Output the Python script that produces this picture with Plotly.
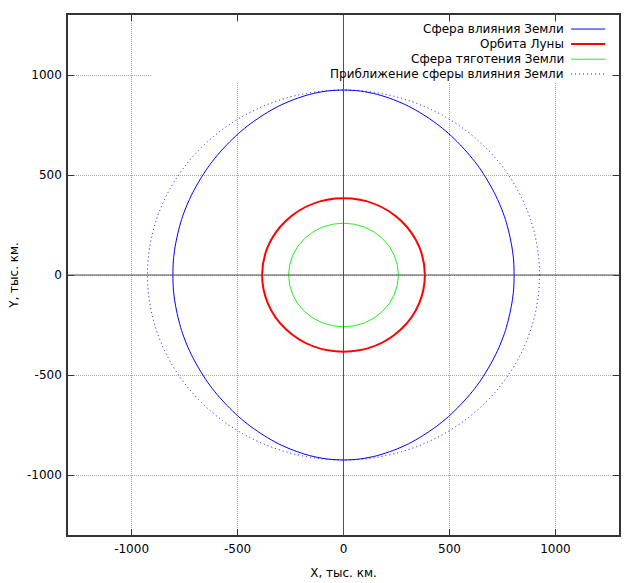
import numpy as np
import plotly.graph_objects as go

# --- data ---
# sphere of influence boundary, first quadrant (angle deg -> radius, thousand km)
soi_angles_deg = [0, 5, 10, 15, 20, 25, 30, 35, 40, 45,
                  50, 55, 60, 65, 70, 75, 80, 85, 90]
soi_radius = [805, 806, 807, 809, 813, 817, 822, 828, 836, 844,
              853, 864, 875, 886, 898, 908, 917, 923, 925]
moon_orbit_radius = 384
gravity_sphere_radius = 259
soi_approx_radius = 925

series_names = ["Сфера влияния Земли", "Орбита Луны",
                "Сфера тяготения Земли", "Приближение сферы влияния Земли"]
tick_values = [-1000, -500, 0, 500, 1000]
tick_labels = ["-1000", "-500", "0", "500", "1000"]
axis_range = [-1300, 1300]

FONT = "DejaVu Sans"
# full closed curve using the symmetry of the boundary
a = np.array(soi_angles_deg, dtype=float)
rr = np.array(soi_radius, dtype=float)
ang = np.concatenate([a, 180 - a[::-1][1:], 180 + a[1:], 360 - a[::-1][1:]])
rad = np.concatenate([rr, rr[::-1][1:], rr[1:], rr[::-1][1:]])
th = np.deg2rad(ang)
soi_x = rad * np.cos(th)
soi_y = rad * np.sin(th)

fig = go.Figure()
fig.add_trace(go.Scatter(x=soi_x, y=soi_y, mode="lines",
                         line=dict(color="#0000ff", width=1, shape="spline", smoothing=0.8),
                         name=series_names[0], showlegend=False, hoverinfo="skip"))

shapes = []
# circles
shapes.append(dict(type="circle", xref="x", yref="y",
                   x0=-moon_orbit_radius, x1=moon_orbit_radius,
                   y0=-moon_orbit_radius, y1=moon_orbit_radius,
                   line=dict(color="#ff0000", width=2)))
shapes.append(dict(type="circle", xref="x", yref="y",
                   x0=-gravity_sphere_radius, x1=gravity_sphere_radius,
                   y0=-gravity_sphere_radius, y1=gravity_sphere_radius,
                   line=dict(color="#22ee22", width=1)))
shapes.append(dict(type="circle", xref="x", yref="y",
                   x0=-soi_approx_radius, x1=soi_approx_radius,
                   y0=-soi_approx_radius, y1=soi_approx_radius,
                   line=dict(color="#0000ff", width=1, dash="1px,3px")))
# opaque key box (covers the grid lines)
shapes.append(dict(type="rect", xref="paper", yref="paper", x0=0.1525, x1=0.987, y0=0.871, y1=0.9865,
                   fillcolor="white", line=dict(width=0), layer="above"))
# zero axes
shapes.append(dict(type="line", xref="x", yref="paper", x0=0, x1=0, y0=0, y1=1,
                   line=dict(color="#505050", width=1), layer="above"))
shapes.append(dict(type="line", xref="paper", yref="y", x0=0, x1=1, y0=0, y1=0,
                   line=dict(color="#505050", width=1), layer="above"))

# manual key (gnuplot style: text right, sample to the right)
key_colors = ["#0000ff", "#ff0000", "#22ee22", "#0000ff"]
key_widths = [1, 2, 1, 1]
key_dash = ["solid", "solid", "solid", "1px,3px"]
key_y = [0.973, 0.944, 0.915, 0.8865]
annotations = []
for name, c, w, d, yy in zip(series_names, key_colors, key_widths, key_dash, key_y):
    annotations.append(dict(text=name, xref="paper", yref="paper", x=0.903, y=yy,
                            xanchor="right", yanchor="middle", showarrow=False,
                            font=dict(family=FONT, size=12, color="black")))
    shapes.append(dict(type="line", xref="paper", yref="paper", x0=0.913, x1=0.975,
                       y0=yy, y1=yy, line=dict(color=c, width=w, dash=d), layer="above"))

axis_common = dict(range=axis_range, tickvals=tick_values, ticktext=tick_labels,
                   ticks="inside", ticklen=6, tickcolor="#333",
                   showline=True, linecolor="#333", linewidth=1.5,
                   mirror="ticks", showgrid=True, gridcolor="#a8a8a8", griddash="1px,1px",
                   gridwidth=1, zeroline=False, automargin=False, ticklabelstandoff=2,
                   tickfont=dict(family=FONT, size=12, color="black"))

fig.update_layout(
    width=640, height=583,
    margin=dict(l=68, r=21, t=15, b=48),
    plot_bgcolor="white", paper_bgcolor="white",
    font=dict(family=FONT, size=12, color="black"),
    showlegend=False,
    shapes=shapes, annotations=annotations,
    xaxis=dict(**axis_common, title=dict(text="X, тыс. км.", standoff=13,
                                         font=dict(family=FONT, size=12))),
    yaxis=dict(**axis_common, title=dict(text="Y, тыс. км.", standoff=6,
                                         font=dict(family=FONT, size=12))),
)

fig.write_html("out.html")
